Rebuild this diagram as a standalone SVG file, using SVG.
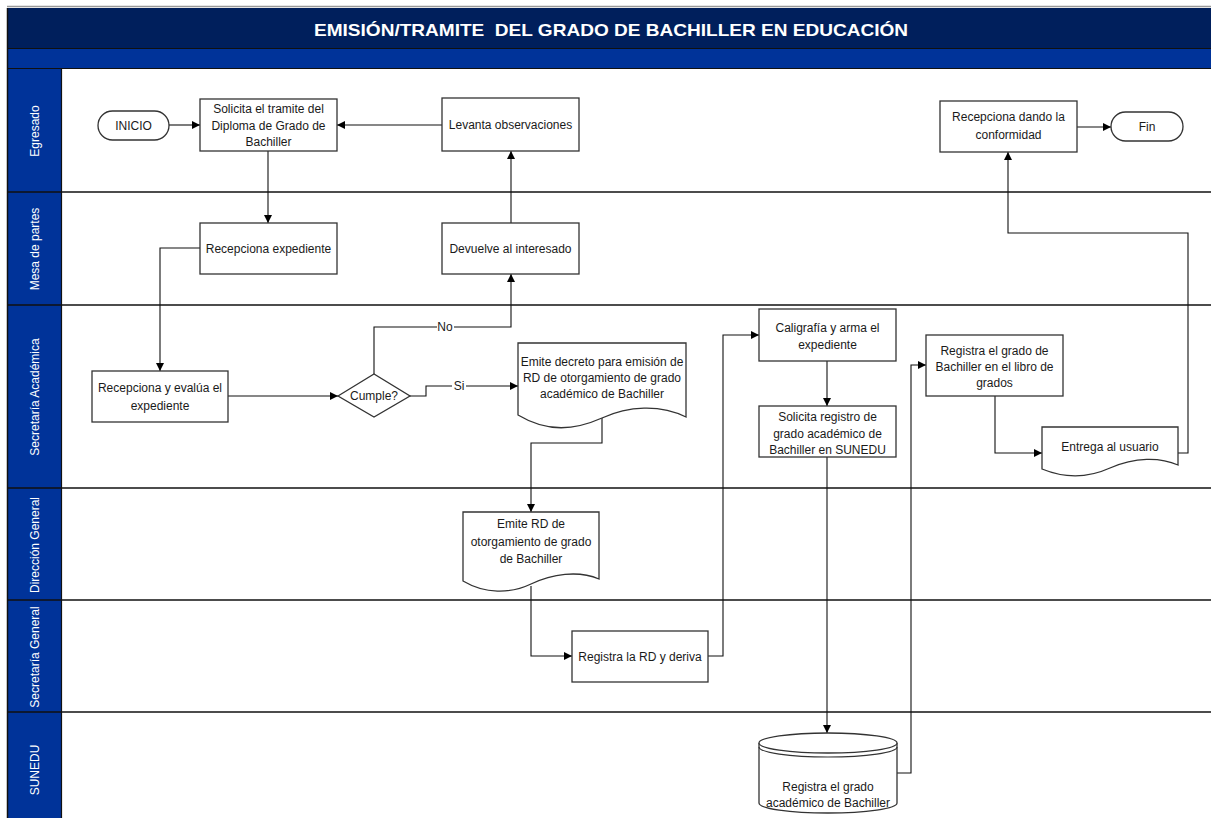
<svg xmlns="http://www.w3.org/2000/svg" width="1211" height="818" viewBox="0 0 1211 818">
<defs>
<marker id="arr" viewBox="0 0 10 10" refX="10" refY="5" markerWidth="8" markerHeight="8" markerUnits="userSpaceOnUse" orient="auto">
<path d="M0,0 L10,5 L0,10 z" fill="#000"/>
</marker>
<style>
.node{fill:#fff;stroke:#333;stroke-width:1.3}
.t{font-family:"Liberation Sans",Arial,sans-serif;font-size:12px;fill:#1a1a1a;text-anchor:middle}
.lane{font-family:"Liberation Sans",Arial,sans-serif;font-size:12px;fill:#fff;text-anchor:middle}
.conn{fill:none;stroke:#111;stroke-width:1.1}
.lbl{font-family:"Liberation Sans",Arial,sans-serif;font-size:12px;fill:#1a1a1a;text-anchor:middle}
.div{stroke:#111;stroke-width:1.5}
</style>
</defs>
<rect width="1211" height="818" fill="#fff"/>
<!-- header -->
<g id="header">
<line x1="7" y1="6.5" x2="1211" y2="6.5" stroke="#999" stroke-width="1.5"/>
<rect x="7" y="8" width="1204" height="40" fill="#001f5c"/>
<rect x="7" y="49" width="1204" height="19" fill="#003399"/>
<line x1="7" y1="48.5" x2="1211" y2="48.5" stroke="#111" stroke-width="1"/>
<line x1="7" y1="68.5" x2="1211" y2="68.5" stroke="#111" stroke-width="1.2"/>
<text x="611" y="36" font-family="'Liberation Sans',Arial,sans-serif" font-size="17" font-weight="bold" fill="#fff" text-anchor="middle" textLength="594" lengthAdjust="spacingAndGlyphs">EMISIÓN/TRAMITE &#160;DEL GRADO DE BACHILLER EN EDUCACIÓN</text>
</g>
<!-- lanes -->
<g id="lanes">
<rect x="7" y="69" width="54" height="749" fill="#003399"/>
<line x1="7.5" y1="8" x2="7.5" y2="818" stroke="#111" stroke-width="1.5"/>
<line x1="61.5" y1="69" x2="61.5" y2="818" stroke="#111" stroke-width="1.2"/>
<line class="div" x1="7" y1="192" x2="1211" y2="192"/>
<line class="div" x1="7" y1="305" x2="1211" y2="305"/>
<line class="div" x1="7" y1="488" x2="1211" y2="488"/>
<line class="div" x1="7" y1="600" x2="1211" y2="600"/>
<line class="div" x1="7" y1="712" x2="1211" y2="712"/>
<text class="lane" transform="translate(39,131) rotate(-90)">Egresado</text>
<text class="lane" transform="translate(39,249) rotate(-90)">Mesa de partes</text>
<text class="lane" transform="translate(39,397) rotate(-90)">Secretaría Académica</text>
<text class="lane" transform="translate(39,545) rotate(-90)">Dirección General</text>
<text class="lane" transform="translate(39,657) rotate(-90)">Secretaría General</text>
<text class="lane" transform="translate(39,770) rotate(-90)">SUNEDU</text>
</g>
<!-- connectors -->
<g id="connectors">
<path class="conn" d="M169,125 L200,125" marker-end="url(#arr)"/>
<path class="conn" d="M442,125 L337,125" marker-end="url(#arr)"/>
<path class="conn" d="M268,151 L268,223" marker-end="url(#arr)"/>
<path class="conn" d="M200,248 L160,248 L160,371" marker-end="url(#arr)"/>
<path class="conn" d="M228,396 L338,396" marker-end="url(#arr)"/>
<path class="conn" d="M374,374 L374,327 L511,327 L511,274" marker-end="url(#arr)"/>
<path class="conn" d="M410,396 L426,396 L426,386 L518,386" marker-end="url(#arr)"/>
<path class="conn" d="M511,223 L511,151" marker-end="url(#arr)"/>
<path class="conn" d="M602,418 L602,443 L531,443 L531,512" marker-end="url(#arr)"/>
<path class="conn" d="M531,586 L531,656 L572,656" marker-end="url(#arr)"/>
<path class="conn" d="M708,656 L723,656 L723,335 L759,335" marker-end="url(#arr)"/>
<path class="conn" d="M827,361 L827,406" marker-end="url(#arr)"/>
<path class="conn" d="M827,457 L827,733" marker-end="url(#arr)"/>
<path class="conn" d="M897,773 L911,773 L911,365 L926,365" marker-end="url(#arr)"/>
<path class="conn" d="M995,396 L995,453 L1042,453" marker-end="url(#arr)"/>
<path class="conn" d="M1178,453 L1188,453 L1188,233 L1008,233 L1008,152" marker-end="url(#arr)"/>
<path class="conn" d="M1077,127 L1111,127" marker-end="url(#arr)"/>
<rect x="437" y="320" width="17" height="14" fill="#fff"/>
<text class="lbl" x="445" y="331">No</text>
<rect x="452" y="379" width="14" height="14" fill="#fff"/>
<text class="lbl" x="459" y="390">Si</text>
</g>
<!-- nodes -->
<g id="inicio">
<rect class="node" x="98" y="111" width="71" height="29" rx="14.5"/>
<text class="t" x="133.5" y="130">INICIO</text>
</g>
<g id="solicita">
<rect class="node" x="200" y="99" width="137" height="52"/>
<text class="t" x="268.5" y="113">Solicita el tramite del</text>
<text class="t" x="268.5" y="130">Diploma de Grado de</text>
<text class="t" x="268.5" y="146">Bachiller</text>
</g>
<g id="levanta">
<rect class="node" x="442" y="98" width="137" height="53"/>
<text class="t" x="510.5" y="129">Levanta observaciones</text>
</g>
<g id="recepciona-dando">
<rect class="node" x="940" y="101" width="137" height="51"/>
<text class="t" x="1008.5" y="121">Recepciona dando la</text>
<text class="t" x="1008.5" y="139">conformidad</text>
</g>
<g id="fin">
<rect class="node" x="1111" y="112" width="72" height="29" rx="14.5"/>
<text class="t" x="1147" y="131">Fin</text>
</g>
<g id="recepciona-exp">
<rect class="node" x="200" y="223" width="137" height="51"/>
<text class="t" x="268.5" y="253">Recepciona expediente</text>
</g>
<g id="devuelve">
<rect class="node" x="442" y="223" width="137" height="51"/>
<text class="t" x="510.5" y="253">Devuelve al interesado</text>
</g>
<g id="recepciona-evalua">
<rect class="node" x="92" y="371" width="136" height="51"/>
<text class="t" x="160" y="392">Recepciona y evalúa el</text>
<text class="t" x="160" y="410">expediente</text>
</g>
<g id="cumple">
<path class="node" d="M338,396 L374,374 L410,396 L374,417 Z"/>
<text class="t" x="374" y="400">Cumple?</text>
</g>
<g id="emite-decreto">
<path class="node" d="M518,343 L686,343 L686,417 C660,404 628,406 602,418 C575,430 548,433 518,415 Z"/>
<text class="t" x="602" y="366">Emite decreto para emisión de</text>
<text class="t" x="602" y="382">RD de otorgamiento de grado</text>
<text class="t" x="602" y="398">académico de Bachiller</text>
</g>
<g id="caligrafia">
<rect class="node" x="759" y="309" width="137" height="52"/>
<text class="t" x="827.5" y="332">Caligrafía y arma el</text>
<text class="t" x="827.5" y="349">expediente</text>
</g>
<g id="solicita-registro">
<rect class="node" x="759" y="406" width="137" height="51"/>
<text class="t" x="827.5" y="421">Solicita registro de</text>
<text class="t" x="827.5" y="438">grado académico de</text>
<text class="t" x="827.5" y="454">Bachiller en SUNEDU</text>
</g>
<g id="registra-libro">
<rect class="node" x="926" y="335" width="137" height="61"/>
<text class="t" x="994.5" y="355">Registra el grado de</text>
<text class="t" x="994.5" y="371">Bachiller en el libro de</text>
<text class="t" x="994.5" y="387">grados</text>
</g>
<g id="entrega">
<path class="node" d="M1042,427 L1178,427 L1178,465 C1160,457 1135,457 1110,468 C1088,478 1064,478 1042,469 Z"/>
<text class="t" x="1110" y="451">Entrega al usuario</text>
</g>
<g id="emite-rd">
<path class="node" d="M463,512 L599,512 L599,579 C578,570 552,574 531,584 C510,594 485,594 463,581 Z"/>
<text class="t" x="531" y="528">Emite RD de</text>
<text class="t" x="531" y="546">otorgamiento de grado</text>
<text class="t" x="531" y="563">de Bachiller</text>
</g>
<g id="registra-rd">
<rect class="node" x="572" y="631" width="136" height="51"/>
<text class="t" x="640" y="661">Registra la RD y deriva</text>
</g>
<g id="registra-sunedu">
<path class="node" d="M759,743 L759,803 A69,10 0 0 0 897,803 L897,743"/>
<ellipse class="node" cx="828" cy="743" rx="69" ry="10"/>
<path d="M759,747 A69,10 0 0 0 897,747" fill="none" stroke="#333" stroke-width="1.2"/>
<text class="t" x="828" y="791">Registra el grado</text>
<text class="t" x="828" y="807">académico de Bachiller</text>
</g>
</svg>
